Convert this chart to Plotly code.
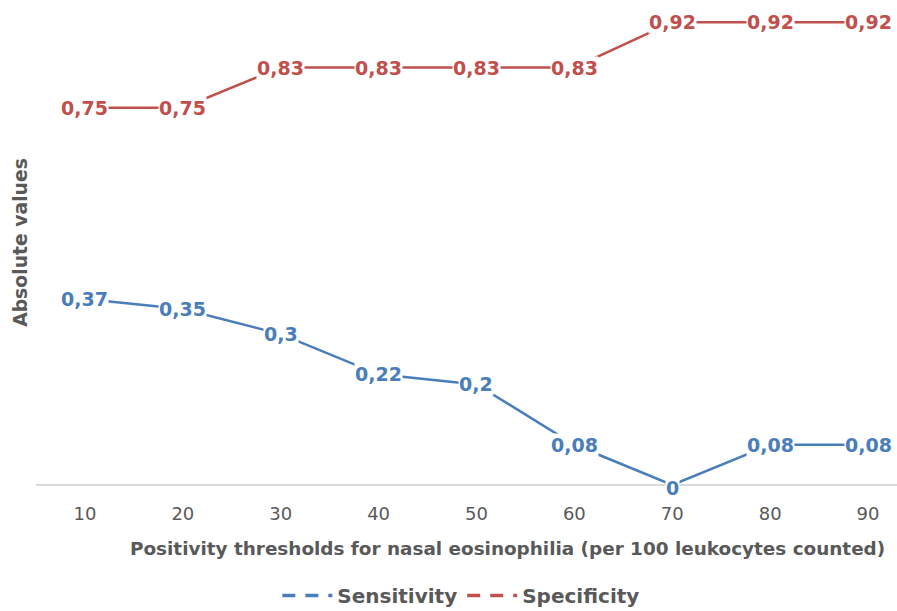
import plotly.graph_objects as go

thresholds = [10, 20, 30, 40, 50, 60, 70, 80, 90]
sensitivity = [0.37, 0.35, 0.30, 0.22, 0.20, 0.08, 0.0, 0.08, 0.08]
specificity = [0.75, 0.75, 0.83, 0.83, 0.83, 0.83, 0.92, 0.92, 0.92]
tick_labels = ["10", "20", "30", "40", "50", "60", "70", "80", "90"]

BLUE = "#4a7ebb"
RED = "#c0504d"
GREY = "#595959"
FONT = "DejaVu Sans"


def fmt(v):
    s = f"{v:.2f}".rstrip("0").rstrip(".")
    return s.replace(".", ",")


fig = go.Figure()

for name, vals, color in [("Sensitivity", sensitivity, BLUE),
                          ("Specificity", specificity, RED)]:
    fig.add_trace(go.Scatter(
        x=thresholds, y=vals, mode="lines", name=name,
        line=dict(color=color, width=2.5), showlegend=False,
    ))
    # legend entry with a dashed key
    fig.add_trace(go.Scatter(
        x=[None], y=[None], mode="lines", name=name,
        line=dict(color=color, width=3.5, dash="13px,10px"),
    ))
    for x, v in zip(thresholds, vals):
        fig.add_annotation(
            x=x, y=v, text=fmt(v), showarrow=False,
            yshift=-3 if v == 0 else 0,
            font=dict(family=FONT, size=19, color=color, weight="bold"),
            bgcolor="white", borderpad=0,
        )

# x-axis title
fig.add_annotation(
    xref="paper", yref="paper", x=0.548, y=0, yshift=-63, yanchor="middle",
    text="Positivity thresholds for nasal eosinophilia (per 100 leukocytes counted)",
    showarrow=False, font=dict(family=FONT, size=18.4, color=GREY, weight="bold"),
)

fig.update_layout(
    width=897, height=611,
    margin=dict(l=36, r=0, t=0, b=126, autoexpand=False),
    paper_bgcolor="white", plot_bgcolor="white",
    font=dict(family=FONT, color=GREY),
    xaxis=dict(
        range=[5, 92.96], tickvals=thresholds, ticktext=tick_labels,
        showgrid=False, zeroline=False, showline=False, automargin=False,
        ticks="outside", ticklen=12, tickcolor="rgba(0,0,0,0)",
        tickfont=dict(size=18, color=GREY),
    ),
    yaxis=dict(
        range=[0, 0.9642], showgrid=False, showticklabels=False,
        zeroline=True, zerolinecolor="#d9d9d9", zerolinewidth=1.5,
        showline=False, ticks="", automargin=False,
        title=dict(text="Absolute values",
                   font=dict(size=18.8, color=GREY, weight="bold"), standoff=2),
    ),
    legend=dict(orientation="h", x=0.494, xanchor="center", y=-0.228,
                yanchor="middle", font=dict(size=20, color=GREY, weight="bold"),
                itemwidth=50),
)

fig.write_html("out.html")
